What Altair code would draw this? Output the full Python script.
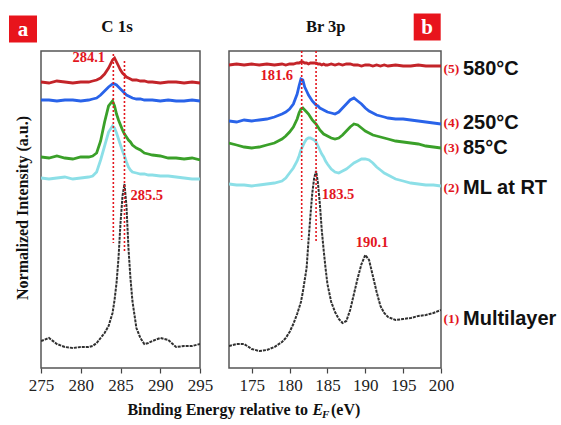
import altair as alt
import pandas as pd

# ---------------- data ----------------
E_C = [275, 276, 277, 278, 279, 280, 281, 281.5, 282, 282.5, 283, 283.5, 284, 284.25, 284.5,
       284.75, 285, 285.25, 285.5, 285.75, 286, 286.25, 286.5, 287, 287.5, 288, 288.5, 289,
       290, 291, 292, 293, 294, 295]
C_580 = [286, 285, 287, 286, 285, 286, 286, 287, 288, 290, 294, 300, 308, 310, 306, 302, 298,
         295, 293, 291, 290, 289, 288, 288, 287, 287, 286, 286, 285, 286, 286, 285, 286, 285]
C_250 = [268, 268, 267, 268, 268, 267, 268, 269, 270, 273, 277, 281, 284, 284, 283, 281, 279,
         277, 275, 273, 272, 271, 270, 269, 269, 268, 268, 268, 267, 268, 267, 267, 268, 267]
C_85 = [211, 210, 212, 210, 209, 211, 211, 212, 215, 227, 246, 262, 267, 262, 254, 248, 243,
        238, 234, 231, 228, 226, 223, 220, 218, 215, 214, 213, 212, 210, 210, 209, 210, 208]
C_RT = [190, 189, 190, 191, 189, 190, 191, 192, 196, 208, 222, 236, 242, 240, 235, 229, 223,
        217, 212, 206, 201, 198, 196, 195, 194, 194, 193, 193, 192, 192, 191, 190, 189, 189]
C_ML = [27, 30, 24, 21, 20, 21, 21, 22, 25, 30, 35, 42, 55, 68, 85, 110, 145, 172, 184, 162,
        120, 90, 67, 40, 30, 24, 25, 27, 30, 28, 21, 22, 22, 24]

E_BR = [172, 173, 174, 175, 176, 177, 178, 179, 179.5, 180, 180.5, 181, 181.25, 181.5, 181.75,
        182, 182.25, 182.5, 182.75, 183, 183.25, 183.5, 183.75, 184, 184.25, 184.5, 184.75, 185,
        185.5, 186, 186.5, 187, 187.5, 188, 188.5, 189, 189.5, 190, 190.5, 191, 191.5, 192,
        192.5, 193, 194, 195, 196, 197, 198, 199, 200]
BR_580 = [303, 304, 303, 304, 303, 304, 303, 304, 303, 304, 304, 305, 305, 306, 306, 305, 305,
          304, 305, 305, 305, 305, 304, 304, 303, 304, 303, 303, 304, 303, 304, 303, 304, 304,
          303, 303, 302, 303, 303, 302, 303, 302, 303, 302, 303, 302, 302, 303, 302, 302, 302]
BR_250 = [247, 246, 248, 247, 248, 249, 251, 254, 256, 259, 264, 274, 282, 289, 288, 281, 277,
          273, 270, 267, 265, 263, 262, 260, 259, 258, 257, 256, 255, 254, 256, 260, 264, 268,
          270, 267, 264, 260, 257, 255, 253, 252, 251, 250, 249, 249, 248, 247, 246, 245, 244]
BR_85 = [225, 223, 221, 220, 221, 223, 225, 229, 232, 236, 241, 249, 255, 259, 260, 258, 256,
         254, 251, 248, 246, 244, 241, 238, 236, 234, 233, 232, 230, 229, 230, 233, 237, 241,
         244, 243, 240, 237, 235, 233, 232, 231, 230, 229, 227, 226, 225, 224, 222, 221, 220]
BR_RT = [184, 183, 183, 182, 183, 184, 185, 187, 190, 195, 200, 207, 212, 218, 222, 226, 229,
         230, 230, 229, 228, 226, 222, 218, 214, 211, 207, 204, 199, 196, 195, 197, 199, 202,
         205, 207, 209, 209, 208, 205, 201, 198, 195, 193, 189, 187, 185, 184, 183, 183, 182]
BR_ML = [22, 24, 24, 19, 17, 18, 21, 26, 30, 36, 44, 54, 60, 66, 76, 88, 100, 127, 152, 175,
         190, 197, 185, 164, 138, 118, 100, 84, 66, 56, 49, 45, 47, 58, 74, 90, 104, 113, 108,
         92, 76, 62, 55, 51, 48, 49, 50, 52, 53, 55, 58]

SERIES = ["580", "250", "85", "RT", "ML"]
COLORS = ["#c0181e", "#1e5be8", "#2f9b1e", "#86dde6", "#303030"]

LABEL_NUM = ["(5)", "(4)", "(3)", "(2)", "(1)"]
LABEL_NAME = ["580°C", "250°C", "85°C", "ML at RT", "Multilayer"]
LABEL_I = [299, 245, 220, 180, 49]

PEAK_A_TEXT = ["284.1", "285.5"]
PEAK_A_E = [281.0, 288.3]
PEAK_A_I = [310, 172]
PEAK_B_TEXT = ["181.6", "183.5", "190.1"]
PEAK_B_E = [178.3, 186.4, 190.9]
PEAK_B_I = [292, 173, 125]

LINE_A_E = [284.1, 285.5]
LINE_A_TOP = [314, 307]
LINE_A_BOT = [125, 117]
LINE_B_E = [181.6, 183.5]
LINE_B_TOP = [317, 317]
LINE_B_BOT = [128, 125]

TICKS_A = [275, 280, 285, 290, 295]
TICKS_B = [175, 180, 185, 190, 195, 200]

# ---------------- build ----------------
SERIF = "Liberation Serif"
SANS = "Liberation Sans"
RED = "#e3161e"
W_A, W_B, H = 159, 212, 317


def long(E, curves, names):
    rows = []
    for name, vals in zip(names, curves):
        for e, v in zip(E, vals):
            rows.append({"E": e, "I": v, "s": name})
    return pd.DataFrame(rows)


yscale = alt.Scale(domain=[0, H], nice=False, zero=False)
cscale = alt.Scale(domain=SERIES, range=COLORS)


def xaxis(vals):
    return alt.Axis(values=vals, title=None, grid=False, domain=False,
                    labelFont=SERIF, labelFontSize=17, labelColor="#222",
                    tickColor="#444", tickSize=5, tickWidth=1.2, labelPadding=4,
                    labelFlush=False, labelOverlap=False)


def txt(t, x, y, **kw):
    return alt.Chart(pd.DataFrame({"t": [t]})).mark_text(**kw).encode(
        text="t:N", x=alt.value(x), y=alt.value(y))


def redbox(x1, x2, y1, y2, letter):
    box = alt.Chart(pd.DataFrame({"t": [letter]})).mark_rect(color="#e8141c").encode(
        x=alt.value(x1), x2=alt.value(x2), y=alt.value(y1), y2=alt.value(y2))
    lab = txt(letter, (x1 + x2) / 2, (y1 + y2) / 2 + 1, font=SERIF, fontSize=21,
              fontWeight="bold", color="white", align="center", baseline="middle")
    return box + lab


def panel(E, curves, dom, ticks, lines, peaks):
    x = alt.X("E:Q", scale=alt.Scale(domain=dom, nice=False, zero=False), axis=xaxis(ticks))
    df_col = long(E, curves[:4], SERIES[:4])
    df_blk = long(E, curves[4:], SERIES[4:])
    col = alt.Chart(df_col).mark_line(strokeWidth=2.8, clip=True, opacity=0.95).encode(
        x=x, y=alt.Y("I:Q", scale=yscale, axis=None),
        color=alt.Color("s:N", scale=cscale, legend=None),
        order=alt.Order("E:Q"))
    blk = alt.Chart(df_blk).mark_line(strokeWidth=2.0, clip=True, strokeDash=[3, 1]).encode(
        x=x, y=alt.Y("I:Q", scale=yscale, axis=None),
        color=alt.Color("s:N", scale=cscale, legend=None),
        order=alt.Order("E:Q"))
    ldf = pd.DataFrame({"E": lines[0], "top": lines[1], "bot": lines[2]})
    rules = alt.Chart(ldf).mark_rule(color=RED, strokeDash=[2, 2], strokeWidth=1.6).encode(
        x=x, y=alt.Y("top:Q", scale=yscale, axis=None), y2="bot:Q")
    pdf = pd.DataFrame({"t": peaks[0], "E": peaks[1], "I": peaks[2]})
    plabs = alt.Chart(pdf).mark_text(font=SERIF, fontSize=14.5, fontWeight="bold",
                                     color=RED, baseline="middle").encode(
        x=x, y=alt.Y("I:Q", scale=yscale, axis=None), text="t:N")
    return (blk + col + rules + plabs)


pa = panel(E_C, [C_580, C_250, C_85, C_RT, C_ML], [275, 295], TICKS_A,
           (LINE_A_E, LINE_A_TOP, LINE_A_BOT), (PEAK_A_TEXT, PEAK_A_E, PEAK_A_I))
pa = alt.layer(
    pa,
    txt("C 1s", 76, -24.5, font=SERIF, fontSize=17, fontWeight="bold", color="#111",
        baseline="middle"),
    redbox(-32, -4, -35.5, -8.5, "a"),
    txt("Normalized Intensity (a.u.)", -18, 157, font=SERIF, fontSize=16,
        fontWeight="bold", color="#111", angle=270, baseline="middle"),
    txt("Binding Energy relative to", 267, 363.5, font=SERIF, fontSize=16,
        fontWeight="bold", color="#111", align="right", baseline="alphabetic"),
    txt("E", 271.5, 363.5, font=SERIF, fontSize=16, fontWeight="bold", fontStyle="italic",
        color="#111", align="left", baseline="alphabetic"),
    txt("F", 281, 367, font=SERIF, fontSize=11, fontWeight="bold", fontStyle="italic",
        color="#111", align="left", baseline="alphabetic"),
    txt("(eV)", 290, 363.5, font=SERIF, fontSize=16, fontWeight="bold", color="#111",
        align="left", baseline="alphabetic"),
).properties(width=W_A, height=H)

pb = panel(E_BR, [BR_580, BR_250, BR_85, BR_RT, BR_ML], [172, 200], TICKS_B,
           (LINE_B_E, LINE_B_TOP, LINE_B_BOT), (PEAK_B_TEXT, PEAK_B_E, PEAK_B_I))
lab_df = pd.DataFrame({"n": LABEL_NUM, "name": LABEL_NAME, "I": LABEL_I})
nums = alt.Chart(lab_df).mark_text(font=SERIF, fontSize=13.5, fontWeight="bold", color=RED,
                                   align="left", baseline="middle").encode(
    x=alt.value(214.5), y=alt.Y("I:Q", scale=yscale, axis=None), text="n:N")
names = alt.Chart(lab_df).mark_text(font=SANS, fontSize=20, fontWeight="bold", color="#111",
                                    align="left", baseline="middle").encode(
    x=alt.value(234), y=alt.Y("I:Q", scale=yscale, axis=None), text="name:N")
pb = alt.layer(
    pb, nums, names,
    txt("Br 3p", 96.7, -24.5, font=SERIF, fontSize=16.5, fontWeight="bold", color="#111",
        baseline="middle"),
    redbox(184.7, 211.7, -37.5, -10.5, "b"),
).properties(width=W_B, height=H)

chart = alt.hconcat(pa, pb, spacing=29, bounds="flush").properties(
    padding={"left": 8, "top": 12, "right": 2, "bottom": 2},
    background="white",
).configure_view(stroke="#555", strokeWidth=1.5)

chart.save("out.html", embed_options={"renderer": "svg", "actions": False})
